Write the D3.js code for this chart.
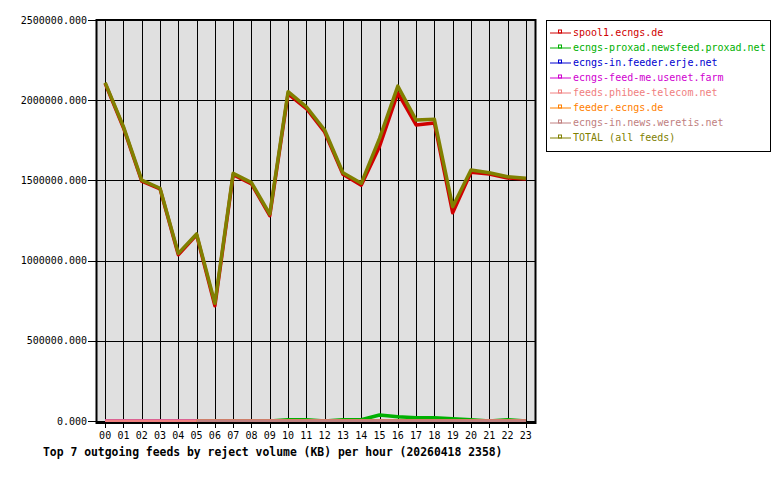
<!DOCTYPE html>
<html>
<head>
<meta charset="utf-8">
<script src="https://cdn.jsdelivr.net/npm/d3@7.9.0/dist/d3.min.js"></script>
<style>
  body { margin: 0; background: #fff; }
  svg text { font-family: "DejaVu Sans Mono", monospace; }
</style>
</head>
<body>
<svg width="780" height="480"></svg>
<script>
// hours on the x axis
const hours = ['00','01','02','03','04','05','06','07','08','09','10','11',
               '12','13','14','15','16','17','18','19','20','21','22','23'];

const feedNames = [
  'spool1.ecngs.de',
  'ecngs-proxad.newsfeed.proxad.net',
  'ecngs-in.feeder.erje.net',
  'ecngs-feed-me.usenet.farm',
  'feeds.phibee-telecom.net',
  'feeder.ecngs.de',
  'ecngs-in.news.weretis.net',
  'TOTAL (all feeds)'
];
const feedColors = ['#d00000', '#00b000', '#0000d0', '#d000d0', '#f08080', '#ff8000', '#c08080', '#808000'];

// KB rejected per hour
const spool1 = [2105000, 1828000, 1495000, 1447000, 1036000, 1160000, 718000, 1535000,
                1478000, 1280000, 2040000, 1948000, 1802000, 1538000, 1470000, 1712000,
                2045000, 1846000, 1858000, 1298000, 1551000, 1540000, 1515000, 1508000];
const proxad = [0, 0, 0, 0, 0, 0, 0, 0, 0, 0, 8000, 8000,
                0, 8000, 8000, 37000, 26500, 20000, 20000, 14000, 8000, 0, 8000, 0];
const erje = [0, 0, 0, 0, 0, 0, 0, 0, 0, 0, 0, 0, 0, 0, 0, 0, 0, 0, 0, 0, 0, 0, 0, 0];
const usenetFarm = [0, 0, 0, 0, 0, 0, 0, 0, 0, 0, 0, 0, 0, 0, 0, 0, 0, 0, 0, 0, 0, 0, 0, 0];
const phibee = [0, 0, 0, 0, 0, 0, 0, 0, 0, 0, 0, 0, 0, 0, 0, 0, 0, 0, 0, 0, 0, 0, 0, 0];
const feederEcngs = [null, null, null, null, null, 0, 0, 0, 0, 0, 0, 0, 0, 0, 0, 0, 0, 0, 0, 0, 0, 0, 0, 0];
const weretis = [null, null, null, null, null, 0, 0, 0, 0, 0, 0, 0, 0, 0, 0, 0, 0, 0, 0, 0, 0, 0, 0, 0];
const total = [2110000, 1835000, 1502000, 1451000, 1045000, 1166000, 734000, 1544000,
               1486000, 1290000, 2053000, 1959000, 1814000, 1548000, 1482000, 1762000,
               2088000, 1876000, 1881000, 1336000, 1565000, 1548000, 1523000, 1513000];

const yTicks = [0, 500000, 1000000, 1500000, 2000000, 2500000];

const allSeries = [spool1, proxad, erje, usenetFarm, phibee, feederEcngs, weretis, total];

const svg = d3.select('svg');

let x = d3.scaleLinear().domain([-0.5, hours.length - 0.5]).range([96, 535]);
let y = d3.scaleLinear().domain([0, 2500000]).range([421, 20]);

// plot background
svg.append('rect')
  .attr('x', x(-0.5)).attr('y', y(2500000))
  .attr('width', x(hours.length - 0.5) - x(-0.5))
  .attr('height', 423 - y(2500000))
  .attr('fill', '#e0e0e0');

// grid
svg.append('g').selectAll('line').data(hours).join('line')
  .attr('x1', (d, i) => Math.round(x(i)) + 0.5)
  .attr('x2', (d, i) => Math.round(x(i)) + 0.5)
  .attr('y1', y(2500000)).attr('y2', 428)
  .attr('stroke', '#000').attr('stroke-width', 1);

svg.append('g').selectAll('line').data(yTicks).join('line')
  .attr('x1', 88).attr('x2', x(hours.length - 0.5))
  .attr('y1', d => Math.round(y(d)) + 0.5)
  .attr('y2', d => Math.round(y(d)) + 0.5)
  .attr('stroke', '#000').attr('stroke-width', 1);

// series lines
let line = d3.line()
  .defined(d => d != null)
  .x((d, i) => x(i))
  .y(d => y(d));

allSeries.forEach((series, idx) => {
  svg.append('path')
    .attr('d', line(series))
    .attr('fill', 'none')
    .attr('stroke', feedColors[idx])
    .attr('stroke-width', 3.5)
    .attr('stroke-linejoin', 'round');
});

// frame
svg.append('rect')
  .attr('x', x(-0.5) + 0.5).attr('y', y(2500000))
  .attr('width', x(hours.length - 0.5) - x(-0.5))
  .attr('height', 423 - y(2500000))
  .attr('fill', 'none')
  .attr('stroke', '#000').attr('stroke-width', 2);

// y labels
svg.append('g').selectAll('text').data(yTicks).join('text')
  .attr('x', 87).attr('y', d => y(d))
  .attr('dy', '0.35em')
  .attr('text-anchor', 'end')
  .attr('font-size', 10)
  .text(d => d.toFixed(3));

// x labels
svg.append('g').selectAll('text').data(hours).join('text')
  .attr('x', (d, i) => x(i)).attr('y', 435)
  .attr('dy', '0.35em')
  .attr('text-anchor', 'middle')
  .attr('font-size', 10)
  .text(d => d);

// title
svg.append('text')
  .attr('x', 43).attr('y', 452)
  .attr('dy', '0.35em')
  .attr('font-size', 11.4)
  .attr('font-weight', 'bold')
  .text('Top 7 outgoing feeds by reject volume (KB) per hour (20260418 2358)');

// legend
let legend = svg.append('g');
legend.append('rect')
  .attr('x', 546.5).attr('y', 20.5)
  .attr('width', 224).attr('height', 131)
  .attr('fill', '#fff').attr('stroke', '#000');

feedNames.forEach((name, idx) => {
  let ly = 32.5 + idx * 15;
  legend.append('line')
    .attr('x1', 550).attr('x2', 571)
    .attr('y1', ly + 0.5).attr('y2', ly + 0.5)
    .attr('stroke', feedColors[idx]);
  legend.append('rect')
    .attr('x', 558.5).attr('y', ly - 2.5)
    .attr('width', 3).attr('height', 3)
    .attr('fill', 'none')
    .attr('stroke', feedColors[idx]);
  legend.append('text')
    .attr('x', 573).attr('y', ly)
    .attr('dy', '0.35em')
    .attr('font-size', 10)
    .attr('fill', feedColors[idx])
    .text(name);
});
</script>
</body>
</html>
